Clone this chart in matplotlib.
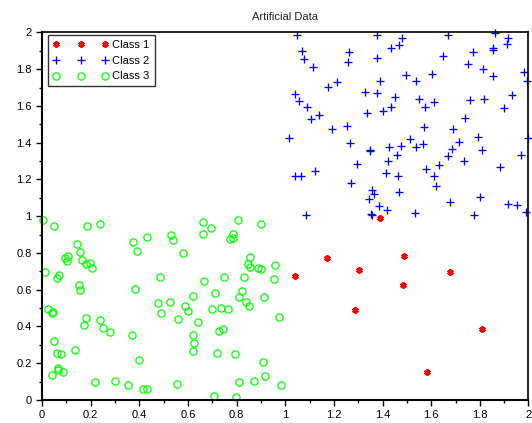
import matplotlib
matplotlib.use("Agg")
import matplotlib.pyplot as plt
from matplotlib.ticker import MultipleLocator, FormatStrFormatter

plt.rcParams['font.family'] = ['Liberation Sans', 'DejaVu Sans']

# Class 1 (red asterisks)
class1_x = [1.388, 1.172, 1.489, 1.039, 1.303, 1.677, 1.483, 1.287, 1.808, 1.582]
class1_y = [0.991, 0.773, 0.786, 0.676, 0.707, 0.696, 0.625, 0.489, 0.386, 0.152]

# Class 2 (blue plus signs)
class2_x = [1.050, 1.377, 1.480, 1.670, 1.863, 1.914, 1.911, 1.068, 1.079, 1.114,
            1.264, 1.258, 1.376, 1.435, 1.469, 1.650, 1.773, 1.853, 1.853, 1.752,
            1.811, 1.853, 1.981, 1.995, 1.176, 1.214, 1.391, 1.498, 1.536, 1.603,
            1.040, 1.055, 1.088, 1.106, 1.138, 1.328, 1.379, 1.453, 1.335, 1.400,
            1.436, 1.550, 1.573, 1.610, 1.761, 1.818, 1.933, 1.900, 1.738, 1.192,
            1.254, 1.016, 1.569, 1.689, 1.791, 1.997, 1.268, 1.347, 1.350, 1.425,
            1.476, 1.514, 1.536, 1.565, 1.715, 1.684, 1.808, 1.671, 1.458, 1.422,
            1.970, 1.297, 1.632, 1.733, 1.578, 1.882, 1.121, 1.042, 1.066, 1.416,
            1.462, 1.610, 1.621, 1.269, 1.357, 1.363, 1.343, 1.467, 1.677, 1.799,
            1.917, 1.951, 1.988, 1.384, 1.420, 1.352, 1.355, 1.087, 1.532, 1.774]
class2_y = [1.984, 1.987, 1.967, 1.987, 1.998, 1.971, 1.937, 1.898, 1.853, 1.813,
            1.893, 1.839, 1.862, 1.917, 1.931, 1.873, 1.891, 1.913, 1.902, 1.828,
            1.803, 1.763, 1.784, 1.737, 1.701, 1.730, 1.737, 1.770, 1.737, 1.772,
            1.663, 1.627, 1.594, 1.531, 1.551, 1.678, 1.668, 1.650, 1.560, 1.572,
            1.594, 1.638, 1.594, 1.623, 1.630, 1.636, 1.658, 1.591, 1.533, 1.475,
            1.493, 1.428, 1.486, 1.475, 1.431, 1.426, 1.400, 1.353, 1.359, 1.377,
            1.382, 1.418, 1.375, 1.391, 1.404, 1.366, 1.360, 1.328, 1.335, 1.301,
            1.332, 1.286, 1.281, 1.303, 1.255, 1.268, 1.246, 1.216, 1.216, 1.237,
            1.219, 1.217, 1.165, 1.178, 1.145, 1.123, 1.096, 1.130, 1.078, 1.105,
            1.069, 1.061, 1.022, 1.054, 1.033, 1.011, 1.005, 1.009, 1.018, 1.005]

# Class 3 (green circles)
class3_x = [0.004, 0.050, 0.185, 0.237, 0.012, 0.143, 0.158, 0.093, 0.106, 0.101,
            0.163, 0.181, 0.196, 0.207, 0.062, 0.070, 0.154, 0.155, 0.026, 0.041,
            0.045, 0.181, 0.174, 0.049, 0.062, 0.078, 0.137, 0.040, 0.067, 0.066,
            0.086, 0.219, 0.237, 0.250, 0.280, 0.300, 0.353, 0.416, 0.433, 0.374,
            0.391, 0.433, 0.383, 0.372, 0.400, 0.484, 0.475, 0.491, 0.530, 0.539,
            0.578, 0.527, 0.590, 0.602, 0.619, 0.560, 0.557, 0.643, 0.620, 0.623,
            0.621, 0.663, 0.663, 0.694, 0.665, 0.711, 0.698, 0.734, 0.763, 0.750,
            0.726, 0.745, 0.720, 0.708, 0.772, 0.786, 0.786, 0.804, 0.855, 0.848,
            0.856, 0.830, 0.822, 0.810, 0.838, 0.853, 0.793, 0.809, 0.871, 0.797,
            0.901, 0.886, 0.902, 0.914, 0.909, 0.918, 0.956, 0.953, 0.975, 0.983]
class3_y = [0.980, 0.946, 0.949, 0.960, 0.697, 0.847, 0.803, 0.774, 0.783, 0.756,
            0.763, 0.740, 0.744, 0.720, 0.664, 0.679, 0.623, 0.597, 0.496, 0.475,
            0.478, 0.446, 0.410, 0.323, 0.258, 0.251, 0.271, 0.134, 0.173, 0.162,
            0.150, 0.097, 0.435, 0.393, 0.372, 0.101, 0.079, 0.058, 0.058, 0.861,
            0.812, 0.888, 0.606, 0.352, 0.218, 0.668, 0.529, 0.471, 0.895, 0.870,
            0.800, 0.532, 0.514, 0.484, 0.567, 0.439, 0.088, 0.426, 0.356, 0.309,
            0.265, 0.969, 0.903, 0.935, 0.650, 0.583, 0.493, 0.502, 0.495, 0.671,
            0.374, 0.388, 0.258, 0.020, 0.874, 0.903, 0.883, 0.980, 0.776, 0.740,
            0.722, 0.668, 0.592, 0.563, 0.534, 0.509, 0.249, 0.097, 0.101, 0.014,
            0.958, 0.718, 0.711, 0.558, 0.208, 0.132, 0.734, 0.656, 0.453, 0.082]

labels = ["Class 1", "Class 2", "Class 3"]

fig = plt.figure(figsize=(5.32, 4.23), dpi=100)
ax = fig.add_axes([0.0789, 0.0544, 0.9145, 0.869])

ax.plot(class1_x, class1_y, linestyle='none', marker=(6, 2, 0), markersize=4.6,
        markeredgewidth=1.5, color='#ff0000', label=labels[0], clip_on=False)
ax.plot(class2_x, class2_y, linestyle='none', marker='+', markersize=5.4,
        markeredgewidth=0.95, color='#0000ff', label=labels[1], clip_on=False)
ax.plot(class3_x, class3_y, linestyle='none', marker='o', markersize=5.2,
        markerfacecolor='none', markeredgewidth=0.9, color='#00ff00',
        label=labels[2], clip_on=False)

ax.set_xlim(0, 2)
ax.set_ylim(0, 2)
for axis in (ax.xaxis, ax.yaxis):
    axis.set_major_locator(MultipleLocator(0.2))
    axis.set_minor_locator(MultipleLocator(0.1))
    axis.set_major_formatter(FormatStrFormatter('%g'))
ax.tick_params(which='both', direction='out', top=False, right=False,
               labelsize=8, colors='black', width=1)
ax.tick_params(which='major', length=4.5, pad=3)
ax.tick_params(which='minor', length=2.5)
for side in ('left', 'bottom'):
    ax.spines[side].set_linewidth(1.5)
for side in ('top', 'right'):
    ax.spines[side].set_linewidth(1.2)

ax.set_title("Artificial Data", fontsize=8, pad=9, color='#222222')

leg = ax.legend(loc='upper left', bbox_to_anchor=(0.0123, 0.992),
                borderaxespad=0, numpoints=3, handlelength=5.0,
                handletextpad=0.35, borderpad=0.45, labelspacing=0.5,
                fontsize=8, frameon=True, fancybox=False)
leg.get_frame().set_edgecolor('black')
leg.get_frame().set_linewidth(1.0)

fig.savefig("out.png", dpi=100)
